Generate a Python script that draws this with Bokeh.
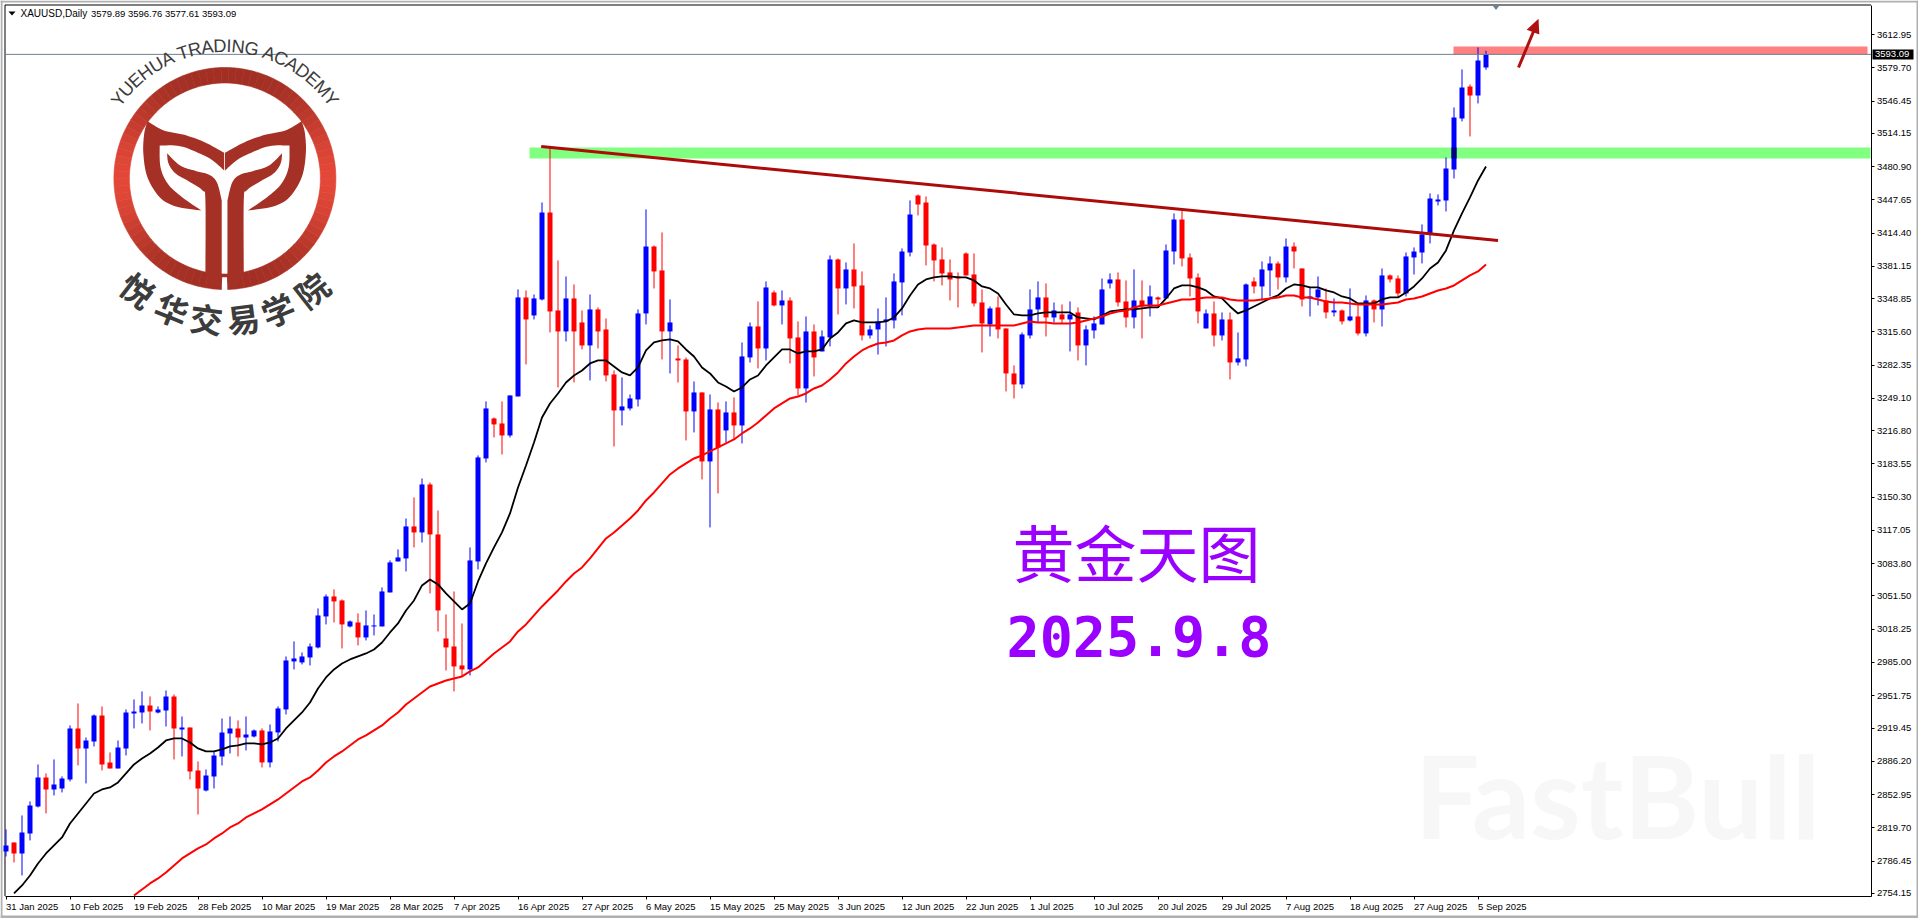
import math
from bokeh.plotting import figure
from bokeh.models import FixedTicker, PrintfTickFormatter, Range1d, LinearAxis
from bokeh.core.properties import value
from bokeh.embed import file_html
from bokeh.resources import INLINE

opens = [2796,2805,2794,2814,2841,2870,2858,2859,2868,2919,
2899,2906,2932,2885,2879,2899,2934,2935,2942,2935,
2937,2951,2918,2920,2877,2857,2871,2891,2914,2919,
2910,2911,2917,2885,2915,2938,2986,2985,2990,3000,
3031,3051,3047,3021,3025,3010,3021,3021,3055,3086,
3089,3121,3115,3163,3113,3009,3001,2982,2978,3086,
3189,3229,3224,3212,3251,3350,3332,3348,3435,3337,
3316,3349,3325,3302,3338,3318,3273,3237,3239,3248,
3334,3401,3377,3316,3289,3288,3236,3255,3186,3238,
3217,3235,3222,3290,3321,3299,3355,3342,3347,3310,
3259,3316,3296,3310,3388,3359,3378,3362,3312,3318,
3326,3327,3365,3395,3452,3445,3403,3388,3375,3371,
3394,3373,3345,3323,3340,3319,3274,3263,3312,3338,
3350,3330,3333,3328,3335,3302,3317,3323,3364,3368,
3346,3330,3347,3341,3350,3349,3396,3428,3390,3370,
3319,3334,3312,3328,3285,3288,3366,3361,3377,3384,
3370,3401,3379,3349,3350,3347,3335,3337,3327,3331,
3314,3347,3338,3372,3369,3354,3390,3395,3413,3446,
3447,3478,3529,3561,3552,3579.89]

highs = [2818,2805,2832,2846,2883,2874,2888,2871,2922,2944,
2910,2933,2941,2895,2907,2938,2948,2956,2951,2941,
2957,2953,2931,2920,2886,2878,2896,2929,2931,2927,
2931,2918,2919,2923,2941,2991,3006,2995,3004,3039,
3053,3058,3048,3027,3034,3037,3033,3060,3087,3098,
3129,3150,3169,3165,3137,3033,3056,3024,3100,3192,
3246,3230,3246,3252,3358,3357,3353,3445,3500,3387,
3371,3363,3337,3353,3340,3329,3277,3270,3253,3338,
3438,3402,3415,3348,3302,3290,3266,3255,3253,3245,
3246,3250,3305,3325,3346,3366,3357,3357,3350,3326,
3331,3323,3317,3392,3389,3385,3404,3376,3322,3339,
3350,3374,3399,3447,3453,3451,3404,3400,3388,3375,
3395,3394,3358,3341,3351,3319,3282,3315,3358,3366,
3364,3345,3343,3346,3340,3322,3331,3369,3374,3375,
3367,3378,3367,3362,3351,3403,3434,3437,3394,3374,
3338,3346,3335,3335,3315,3364,3370,3386,3391,3386,
3409,3405,3379,3360,3371,3359,3349,3338,3359,3342,
3352,3348,3379,3373,3372,3395,3400,3423,3454,3453,
3490,3540,3578,3563,3600,3596.76]

lows = [2791,2785,2772,2807,2840,2834,2852,2855,2866,2882,
2864,2901,2877,2879,2879,2892,2919,2924,2917,2934,
2921,2888,2891,2868,2833,2856,2859,2882,2894,2891,
2897,2910,2880,2880,2906,2933,2978,2983,2982,2999,
3023,3025,2999,3020,3002,3007,3012,3021,3055,3086,
3076,3100,3105,3054,3016,2977,2956,2971,2972,3078,
3185,3210,3193,3210,3251,3283,3328,3347,3315,3260,
3306,3265,3298,3267,3299,3266,3201,3222,3237,3241,
3323,3359,3288,3274,3265,3207,3215,3168,3120,3154,
3205,3208,3204,3285,3279,3287,3341,3323,3284,3252,
3245,3271,3296,3301,3333,3343,3339,3307,3309,3293,
3301,3319,3332,3391,3432,3382,3366,3362,3347,3340,
3372,3341,3295,3311,3309,3256,3249,3259,3309,3325,
3311,3325,3324,3296,3287,3282,3309,3323,3359,3341,
3320,3319,3309,3331,3340,3349,3383,3381,3351,3324,
3319,3301,3307,3268,3282,3281,3354,3347,3351,3358,
3365,3379,3341,3331,3342,3329,3331,3323,3326,3312,
3311,3325,3321,3365,3350,3351,3373,3384,3404,3442,
3436,3469,3526,3511,3544,3577.61]

closes = [2802,2794,2815,2842,2870,2858,2863,2869,2919,2899,
2907,2932,2883,2879,2900,2935,2936,2942,2936,2938,
2951,2919,2920,2876,2859,2872,2892,2915,2919,2910,
2913,2917,2885,2916,2939,2987,2989,2991,3001,3032,
3051,3046,3023,3026,3010,3022,3022,3056,3085,3090,
3121,3115,3163,3113,3037,3000,2981,2978,3087,3190,
3239,3223,3212,3252,3350,3328,3349,3435,3336,3316,
3349,3316,3302,3338,3316,3272,3237,3241,3249,3334,
3401,3376,3316,3325,3287,3236,3255,3186,3238,3200,
3235,3222,3291,3321,3299,3360,3342,3347,3309,3259,
3316,3290,3311,3388,3359,3378,3361,3312,3318,3326,
3328,3366,3396,3433,3443,3402,3387,3374,3368,3369,
3372,3344,3324,3339,3318,3274,3263,3313,3338,3350,
3330,3337,3328,3333,3302,3318,3324,3358,3368,3345,
3330,3347,3341,3351,3348,3397,3428,3389,3369,3336,
3334,3312,3328,3285,3289,3363,3361,3378,3384,3370,
3401,3396,3348,3351,3358,3335,3337,3326,3331,3314,
3347,3338,3372,3368,3354,3391,3396,3413,3449,3448,
3479,3530,3560,3552,3587,3593.09]

ma_fast = [2747,2754,2762,2772,2784,2794,2802,2810,2824,2834,
2844,2854,2858,2860,2865,2874,2883,2889,2894,2900,
2907,2909,2909,2905,2899,2896,2896,2898,2901,2902,
2904,2904,2903,2905,2909,2919,2927,2935,2945,2959,
2970,2978,2984,2988,2991,2994,2998,3005,3015,3024,
3037,3047,3062,3068,3063,3054,3046,3038,3044,3066,
3084,3100,3115,3134,3160,3182,3205,3230,3244,3254,
3265,3272,3277,3284,3287,3287,3281,3275,3272,3280,
3297,3305,3307,3308,3306,3298,3291,3280,3274,3265,
3261,3256,3260,3268,3272,3282,3290,3298,3298,3294,
3296,3296,3298,3309,3315,3324,3327,3325,3325,3325,
3326,3330,3339,3352,3363,3368,3370,3371,3371,3370,
3370,3367,3361,3359,3354,3343,3333,3332,3332,3334,
3335,3335,3335,3335,3330,3329,3328,3332,3336,3337,
3338,3338,3339,3340,3340,3349,3359,3362,3362,3360,
3357,3351,3349,3341,3334,3337,3341,3345,3349,3352,
3359,3363,3362,3360,3360,3357,3355,3351,3349,3344,
3344,3344,3348,3350,3350,3355,3361,3369,3379,3385,
3397,3417,3434,3450,3467,3481]

ma_slow_start = 15
ma_slow = [2746,2752,2758,2764,2769,2775,2782,2789,2794,2799,2803,2809,2814,2820,2824,
2830,2834,2838,2843,2848,2854,2860,2866,2870,2877,
2885,2891,2896,2902,2908,2912,2917,2922,2929,2935,
2943,2949,2955,2961,2964,2967,2969,2971,2976,2980,
2987,2994,3000,3006,3016,3023,3032,3041,3049,3057,
3066,3074,3080,3089,3099,3109,3115,3122,3129,3137,
3147,3155,3164,3173,3179,3184,3189,3192,3196,3200,
3204,3208,3214,3219,3225,3232,3239,3244,3249,3251,
3254,3259,3262,3268,3275,3284,3291,3297,3301,3304,
3305,3307,3312,3316,3318,3319,3319,3319,3319,3320,
3321,3322,3322,3322,3322,3322,3322,3324,3326,3325,
3325,3324,3324,3324,3325,3327,3329,3331,3334,3336,
3337,3340,3342,3342,3342,3344,3346,3348,3348,3349,
3350,3350,3350,3348,3347,3347,3347,3348,3349,3350,
3352,3352,3350,3350,3348,3346,3345,3345,3344,3343,
3343,3343,3343,3344,3345,3348,3349,3351,3354,3357,
3359,3362,3367,3372,3376,3383]

date_labels = ["31 Jan 2025","10 Feb 2025","19 Feb 2025","28 Feb 2025","10 Mar 2025","19 Mar 2025",
"28 Mar 2025","7 Apr 2025","16 Apr 2025","27 Apr 2025","6 May 2025","15 May 2025","25 May 2025",
"3 Jun 2025","12 Jun 2025","22 Jun 2025","1 Jul 2025","10 Jul 2025","20 Jul 2025","29 Jul 2025",
"7 Aug 2025","18 Aug 2025","27 Aug 2025","5 Sep 2025"]

price_ticks = [3612.95,3579.70,3546.45,3514.15,3480.90,3447.65,3414.40,3381.15,3348.85,3315.60,
3282.35,3249.10,3216.80,3183.55,3150.30,3117.05,3083.80,3051.50,3018.25,2985.00,2951.75,2919.45,
2886.20,2852.95,2819.70,2786.45,2754.15]

last_price = 3593.09
resistance_zone = (3592.95, 3600.95)
support_zone = (3488.95, 3499.95)
trend_bars = (66.9, 186.5)
trend_prices = (3500.95, 3406.95)

n = len(closes)
assert all(len(a) == n for a in (opens, highs, lows, ma_fast)), [len(a) for a in (opens, highs, lows, ma_fast)]
assert len(ma_slow) + ma_slow_start == n, len(ma_slow)

def X(px):
    return (px - 5.5) / 8.0
def Y(py):
    return 3646.95 - py

# the plot area is the whole page and the axes sit at fixed places inside it,
# so that the price tag and the window edge can be drawn beside them
p = figure(frame_width=1918, frame_height=918, min_border=0,
           x_range=Range1d(X(0), X(1918)), y_range=Range1d(Y(918), Y(0)),
           y_axis_location="right", output_backend="svg", toolbar_location=None,
           background_fill_color="white", border_fill_color="white")
p.grid.visible = False
p.outline_line_color = None

L, R, T, B = 4.5, 1870.5, 4.5, 895.5
FONT = "Liberation Sans"
for ax in (p.xaxis[0], p.yaxis[0]):
    ax.axis_line_color = "black"
    ax.major_tick_line_color = "black"
    ax.major_tick_in = 0
    ax.major_tick_out = 3
    ax.minor_tick_line_color = None
    ax.major_label_text_font = FONT
    ax.major_label_text_font_size = "9.5px"
    ax.major_label_text_color = "black"
    ax.major_label_standoff = 3
tick_bars = [8 * k for k in range(len(date_labels))]
p.xaxis[0].ticker = FixedTicker(ticks=tick_bars)
p.xaxis[0].major_label_overrides = {t: "" for t in tick_bars}
p.xaxis[0].fixed_location = Y(B)
p.xaxis[0].bounds = (X(L), X(R))
p.yaxis[0].ticker = FixedTicker(ticks=price_ticks)
p.yaxis[0].formatter = PrintfTickFormatter(format="%.2f")
p.yaxis[0].fixed_location = X(R)
p.yaxis[0].bounds = (Y(B), Y(T))

# date labels start at their tick, so they sit on a tickless second axis, shifted by half their width
CW = {" ":.278,"J":.5,"a":.556,"n":.556,"F":.611,"e":.556,"b":.556,"M":.833,"r":.333,"A":.667,"p":.556,
      "y":.5,"u":.556,"l":.222,"g":.556,"S":.667,"s":.5}
def text_w(s, fs=9.5):
    return sum(CW.get(c, .556) for c in s) * fs
shifted = {round(8 * k + text_w(s) / 2 / 8, 3): s for k, s in enumerate(date_labels)}
ax2 = LinearAxis(ticker=FixedTicker(ticks=list(shifted)), major_label_overrides=shifted,
                 axis_line_color=None, major_tick_line_color=None, minor_tick_line_color=None,
                 major_tick_in=0, major_tick_out=0, major_label_text_font=FONT,
                 major_label_text_font_size="9.5px", major_label_text_color="black", major_label_standoff=3,
                 fixed_location=Y(897))
p.add_layout(ax2, "below")

# frame's top and left edges
p.line([X(L), X(L), X(R)], [Y(B), Y(T), Y(T)], line_color="black", line_width=1)

# watermark
p.text(x=[X(1414)], y=[Y(793)], text=["FastBull"], text_font=value("Lato"), text_font_style="bold",
       text_font_size="115px", text_color="#f7f7f7", text_baseline="middle")

# zones
p.quad(left=[X(529)], right=[X(1870)], bottom=[support_zone[0]], top=[support_zone[1]], fill_color="#80ff80", line_color=None)
p.quad(left=[X(1453)], right=[X(1867)], bottom=[resistance_zone[0]], top=[resistance_zone[1]], fill_color="#ff8080", line_color=None)

# candles
idx = list(range(n))
wick_colors = ["blue" if closes[i] >= opens[i] else "red" for i in idx]
p.segment(x0=idx, x1=idx, y0=lows, y1=highs, line_color=wick_colors, line_width=1)
p.vbar(x=idx, width=5 / 8, bottom=[min(opens[i], closes[i]) for i in idx],
       top=[max(opens[i], closes[i]) for i in idx], fill_color=wick_colors, line_color=None)
# candle seen through the support zone
cross = [i for i in idx if closes[i] > support_zone[1] and opens[i] < support_zone[0]]
p.vbar(x=cross, width=5 / 8, bottom=[support_zone[0]] * len(cross), top=[support_zone[1]] * len(cross),
       fill_color="#000080", line_color=None)

# moving averages, only where they are inside the frame
fast_i = [i for i in idx if ma_fast[i] >= Y(B)]
p.line(fast_i, [ma_fast[i] for i in fast_i], line_color="black", line_width=1.8)
slow_i = [i for i in range(ma_slow_start, n) if ma_slow[i - ma_slow_start] >= Y(B)]
p.line(slow_i, [ma_slow[i - ma_slow_start] for i in slow_i], line_color="red", line_width=2)

# last price line and its tag
p.line([X(L), X(R)], [last_price, last_price], line_color="#708090", line_width=1)
p.quad(left=[X(1872)], right=[X(1913)], top=[Y(49)], bottom=[Y(59)], fill_color="black", line_color=None)
p.text(x=[X(1874.5)], y=[last_price], text=["%.2f" % last_price], text_color="white", text_font=value(FONT),
       text_font_size="9.5px", text_baseline="middle")

# trend line and arrow
p.line(trend_bars, trend_prices, line_color="#ad0a0a", line_width=3)
p.line([X(1518), X(1533)], [Y(67), Y(31)], line_color="#b01010", line_width=3)
p.patch([X(1538), X(1526.2), X(1538.8)], [Y(18.3), Y(29.3), Y(34)], fill_color="#b01010", line_color=None)

# small markers
p.patch([X(1492), X(1499), X(1495.5)], [Y(5), Y(5), Y(9.5)], fill_color="#708090", line_color=None)
p.patch([X(8), X(15), X(11.5)], [Y(11), Y(11), Y(15)], fill_color="black", line_color=None)

# header
p.text(x=[X(20)], y=[Y(12.5)], text=["XAUUSD,Daily"], text_font=value(FONT), text_font_size="10px",
       text_color="black", text_baseline="middle")
p.text(x=[X(90.5)], y=[Y(12.5)], text=["3579.89 3596.76 3577.61 3593.09"], text_font=value(FONT),
       text_font_size="9.5px", text_color="black", text_baseline="middle")

# big annotation
p.text(x=[X(1136)], y=[Y(550)], text=["黄金天图"], text_font=value("Noto Sans CJK SC"), text_font_size="62px",
       text_color="#9900ff", text_align="center", text_baseline="middle")
p.text(x=[X(1138.5)], y=[Y(635)], text=["2025.9.8"], text_font=value("DejaVu Sans Mono"), text_font_style="bold",
       text_font_size="55px", text_color="#9900ff", text_align="center", text_baseline="middle")

# logo
CX, CY, R_OUT, R_IN = 224.4, 178.0, 111.0, 95.5
def lerp(a, b, t):
    return int(round(a + (b - a) * t))
N = 90
wedges_s = [2 * math.pi * k / N for k in range(N)]
wedges_e = [2 * math.pi * (k + 1) / N for k in range(N)]
wcols = []
for a in wedges_s:
    t = abs(math.cos(a + math.pi / N)) ** 4
    wcols.append("#%02x%02x%02x" % (lerp(0xa3, 0xe2, t), lerp(0x2f, 0x47, t), lerp(0x24, 0x37, t)))
p.annular_wedge(x=[X(CX)] * N, y=[Y(CY)] * N, inner_radius=R_IN, outer_radius=R_OUT,
                inner_radius_units="screen", outer_radius_units="screen",
                start_angle=wedges_s, end_angle=wedges_e, fill_color=wcols, line_color=wcols, line_width=0.6)

def zx(v):
    return v / 2.45
def zy(v):
    return v / 3.0
def spline(pts, steps=8):
    # Catmull-Rom through pts, so the logo's edges are curves
    out = []
    m = len(pts)
    for i in range(m - 1):
        p0, p1, p2, p3 = pts[max(i - 1, 0)], pts[i], pts[i + 1], pts[min(i + 2, m - 1)]
        for s in range(steps):
            t = s / steps
            out.append(tuple(0.5 * (2 * p1[k] + (p2[k] - p0[k]) * t + (2 * p0[k] - 5 * p1[k] + 4 * p2[k] - p3[k]) * t * t
                                    + (3 * p1[k] - p0[k] - 3 * p2[k] + p3[k]) * t ** 3) for k in (0, 1)))
    out.append(pts[-1])
    return out
MID = 549
LOGO_RED = "#a53025"
band_edges = [[(360,362),(400,390),(450,403),(500,425),(548,457)],
              [(548,457),(548,510)],
              [(548,510),(520,480),(490,460),(440,437),(390,435)],
              [(390,435),(392,500),(410,550),(445,590),(492,630)],
              [(492,630),(430,618),(390,590),(360,530),(350,460),(352,400),(360,362)]]
leaf_edges = [[(408,458),(440,495),(480,512),(510,522),(530,545),(542,600)],
              [(542,600),(542,840)],
              [(542,840),(535,858),(520,866)],
              [(520,866),(502,815)],
              [(502,815),(502,600),(495,570),(465,545),(430,520),(412,490),(408,458)]]
gap = [(543,830),(555,830),(556,872),(542,872)]
p.patch([X(zx(a)) for a, b in gap], [Y(zy(b)) for a, b in gap], fill_color="white", line_color=None)
for edges in (band_edges, leaf_edges):
    shape = [q for e in edges for q in spline(e)]
    for mirror in (False, True):
        xs = [X(zx(2 * MID - a if mirror else a)) for a, b in shape]
        ys = [Y(zy(b)) for a, b in shape]
        p.patch(xs, ys, fill_color=LOGO_RED, line_color=None)

ARC_TEXT = "YUEHUA TRADING ACADEMY"
W = {"Y":.667,"U":.722,"E":.667,"H":.722,"A":.667," ":.278,"T":.611,"R":.722,"D":.722,"I":.278,"N":.722,"G":.778,"C":.722,"M":.833}
AFS = 18.3
AR = 133.0
tot = sum(W[c] for c in ARC_TEXT) * AFS
pos = -tot / 2
ax_, ay_, aa_, at_ = [], [], [], []
for c in ARC_TEXT:
    w = W[c] * AFS
    th = (pos + w / 2) / AR
    pos += w
    if c == " ":
        continue
    ax_.append(X(CX + AR * math.sin(th)))
    ay_.append(Y(CY - AR * math.cos(th)))
    aa_.append(-th)
    at_.append(c)
p.text(x=ax_, y=ay_, text=at_, angle=aa_, text_font=value(FONT), text_font_size="18.3px", text_color="#3c3c3c",
       text_align="center", text_baseline="middle")

CN_CHARS = list("悦华交易学院")
CN_ANG = [38, 22, 7.5, -7.5, -22, -38]
CN_R = 141.0
p.text(x=[X(CX - CN_R * math.sin(math.radians(a))) for a in CN_ANG],
       y=[Y(CY + CN_R * math.cos(math.radians(a))) for a in CN_ANG],
       text=CN_CHARS, angle=[-math.radians(a) for a in CN_ANG], text_font=value("Noto Sans CJK SC"),
       text_font_style="bold", text_font_size="33px", text_color="#3c3c3c", text_align="center", text_baseline="middle")

# window edge
for l, r, t, b in ((0, 2, 0, 918), (0, 1918, 0, 2), (1916, 1918, 0, 918), (0, 1918, 915, 918)):
    p.quad(left=[X(l)], right=[X(r)], top=[Y(t)], bottom=[Y(b)], fill_color="#b0b0b0", line_color=None)

open("out.html", "w").write(file_html(p, INLINE))
